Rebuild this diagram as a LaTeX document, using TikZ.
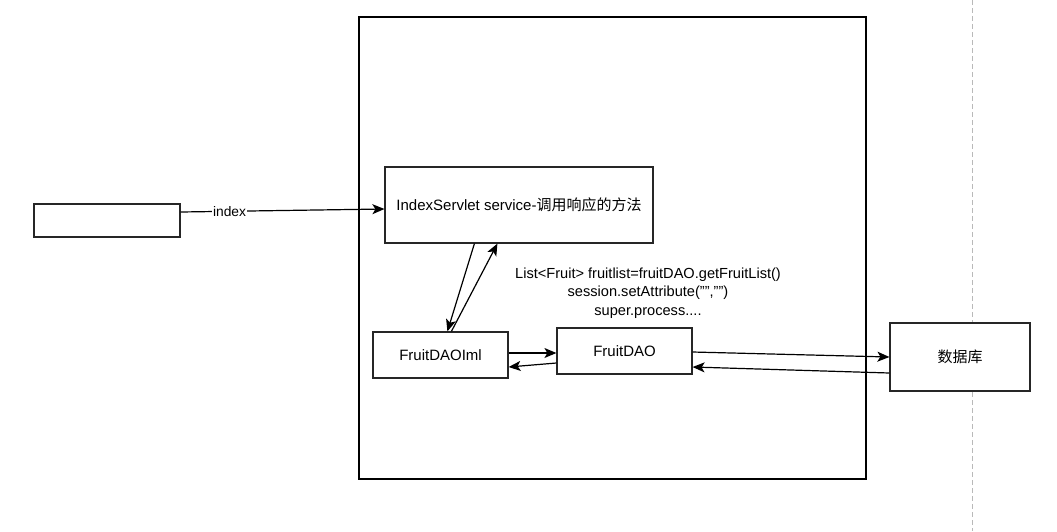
\documentclass[tikz,border=0pt]{standalone}
\usepackage{fontspec}
\setmainfont{Liberation Sans}
\newfontfamily\cjk{Noto Sans CJK SC}
\usetikzlibrary{arrows.meta,calc}
\begin{document}
\begin{tikzpicture}[x=1pt,y=-1pt,
  box/.style={draw=black!85,line width=1.2pt,fill=white,inner sep=0pt,font=\fontsize{15}{18}\selectfont},
  link/.style={line width=1.2pt,-{Stealth[length=12pt,width=10pt,inset=3pt]}},
  every node/.style={text=black}]
\useasboundingbox (0,0) rectangle (1057,531);

% separator behind the database box
\draw[gray!55,line width=1pt,dash pattern=on 5pt off 3pt] (972,0) -- (972,531);

% server area
\node[draw=black,line width=1.2pt,minimum width=507pt,minimum height=462pt,inner sep=0pt] (srv) at (612.5,248) {};

% components
\node[box,minimum width=146pt,minimum height=33pt] (client) at (107,220.5) {};
\node[box,minimum width=268pt,minimum height=76pt] (is) at (519,205) {IndexServlet service-{\cjk 调用响应的方法}};
\node[box,minimum width=135pt,minimum height=46pt] (impl) at (440.5,355) {FruitDAOIml};
\node[box,minimum width=135pt,minimum height=46pt] (dao) at (624.5,351) {FruitDAO};
\node[box,minimum width=140pt,minimum height=68pt] (db) at (960,357) {\cjk 数据库};

% servlet body
\node[align=center,font=\fontsize{14.6}{18.5}\selectfont] (note) at (648,293)
  {List<Fruit> fruitlist=fruitDAO.getFruitList()\\session.setAttribute("","")\\super.process....};

% request
\draw[link] ($(client.east)+(0,-8.5)$) -- node[pos=0.24,fill=white,inner sep=1pt,font=\fontsize{13.8}{16}\selectfont]{index} ($(is.west)+(0,4)$);

% servlet <-> implementation
\draw[link] ($(is.south west)+(90,0)$) -- ($(impl.north west)+(75,0)$);
\draw[link] ($(impl.north west)+(79,0)$) -- ($(is.south west)+(113,0)$);

% implementation <-> DAO
\draw[link] ($(impl.east)+(0,-2)$) -- ($(dao.west)+(0,2)$);
\draw[link] ($(dao.west)+(0,12)$) -- ($(impl.east)+(0,12)$);

% DAO <-> database
\draw[link] ($(dao.east)+(0,1)$) -- (db.west);
\draw[link] ($(db.west)+(0,16)$) -- ($(dao.east)+(0,16)$);
\end{tikzpicture}
\end{document}
